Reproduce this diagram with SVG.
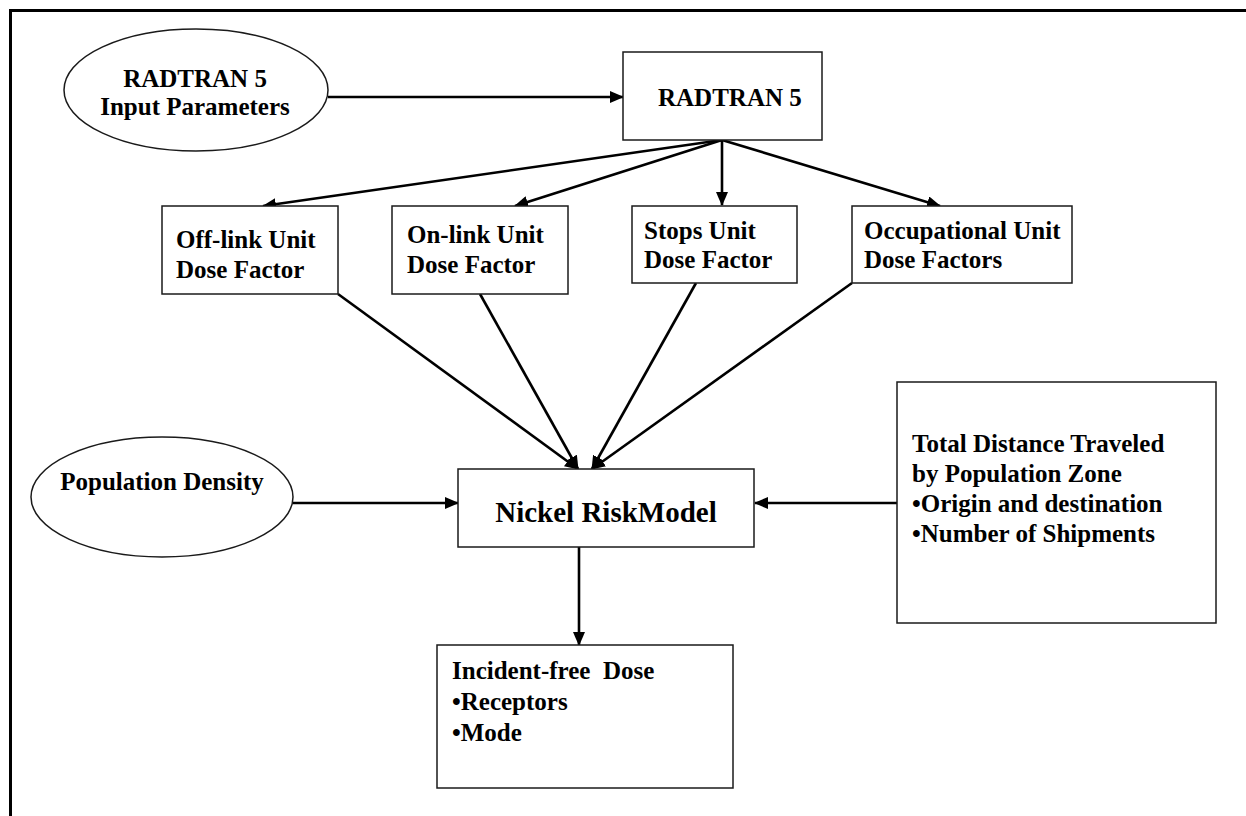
<svg xmlns="http://www.w3.org/2000/svg" width="1246" height="816" viewBox="0 0 1246 816">
<style>
.box{fill:#fff;stroke:#1a1a1a;stroke-width:1.5}
.t{font-family:"Liberation Serif","Times New Roman",serif;font-weight:bold;font-size:25px;fill:#000}
.c{stroke:#000;stroke-width:2.6;fill:none;marker-end:url(#ah)}
</style>
<defs>
<marker id="ah" markerUnits="userSpaceOnUse" markerWidth="14" markerHeight="12" refX="13" refY="6" orient="auto">
<path d="M0,0 L14,6 L0,12 z" fill="#000"/>
</marker>
</defs>
<rect width="1246" height="816" fill="#fff"/>
<g id="frame">
<line x1="9" y1="10.5" x2="1246" y2="10.5" stroke="#000" stroke-width="3"/>
<line x1="10.5" y1="9" x2="10.5" y2="816" stroke="#000" stroke-width="3"/>
</g>
<g id="connectors">
<line class="c" x1="328" y1="97" x2="623" y2="97"/>
<line class="c" x1="722" y1="140" x2="263" y2="206"/>
<line class="c" x1="722" y1="140" x2="515" y2="206"/>
<line class="c" x1="722" y1="140" x2="722" y2="205"/>
<line class="c" x1="722" y1="140" x2="940" y2="206"/>
<line class="c" x1="338" y1="294" x2="578" y2="469"/>
<line class="c" x1="480" y1="294" x2="578" y2="469"/>
<line class="c" x1="696" y1="283" x2="592" y2="469"/>
<line class="c" x1="852" y1="283" x2="592" y2="469"/>
<line class="c" x1="293" y1="503" x2="458" y2="503"/>
<line class="c" x1="897" y1="503" x2="755" y2="503"/>
<line class="c" x1="579" y1="547" x2="579" y2="645"/>
</g>
<g id="radtran-input">
<ellipse class="box" cx="196" cy="90" rx="132" ry="61"/>
<text class="t" x="195" y="87" text-anchor="middle">RADTRAN 5</text>
<text class="t" x="195" y="115" text-anchor="middle">Input Parameters</text>
</g>
<g id="radtran">
<rect class="box" x="623" y="52" width="199" height="88"/>
<text class="t" x="658" y="106">RADTRAN 5</text>
</g>
<g id="offlink">
<rect class="box" x="162" y="206" width="176" height="88"/>
<text class="t" x="176" y="248">Off-link Unit</text>
<text class="t" x="176" y="278">Dose Factor</text>
</g>
<g id="onlink">
<rect class="box" x="392" y="206" width="176" height="88"/>
<text class="t" x="407" y="243">On-link Unit</text>
<text class="t" x="407" y="273">Dose Factor</text>
</g>
<g id="stops">
<rect class="box" x="632" y="206" width="165" height="77"/>
<text class="t" x="644" y="239">Stops Unit</text>
<text class="t" x="644" y="268">Dose Factor</text>
</g>
<g id="occupational">
<rect class="box" x="852" y="206" width="220" height="77"/>
<text class="t" x="864" y="239">Occupational Unit</text>
<text class="t" x="864" y="268">Dose Factors</text>
</g>
<g id="population">
<ellipse class="box" cx="162" cy="497" rx="131" ry="60"/>
<text class="t" x="162" y="490" text-anchor="middle">Population Density</text>
</g>
<g id="nickel">
<rect class="box" x="458" y="469" width="296" height="78"/>
<text class="t" x="606" y="522" text-anchor="middle" style="font-size:29px">Nickel RiskModel</text>
</g>
<g id="distance">
<rect class="box" x="897" y="382" width="319" height="241"/>
<text class="t" x="912" y="452">Total Distance Traveled</text>
<text class="t" x="912" y="482">by Population Zone</text>
<text class="t" x="912" y="512">•Origin and destination</text>
<text class="t" x="912" y="542">•Number of Shipments</text>
</g>
<g id="incident">
<rect class="box" x="437" y="645" width="296" height="143"/>
<text class="t" x="452" y="679" xml:space="preserve">Incident-free  Dose</text>
<text class="t" x="452" y="710">•Receptors</text>
<text class="t" x="452" y="741">•Mode</text>
</g>
</svg>
